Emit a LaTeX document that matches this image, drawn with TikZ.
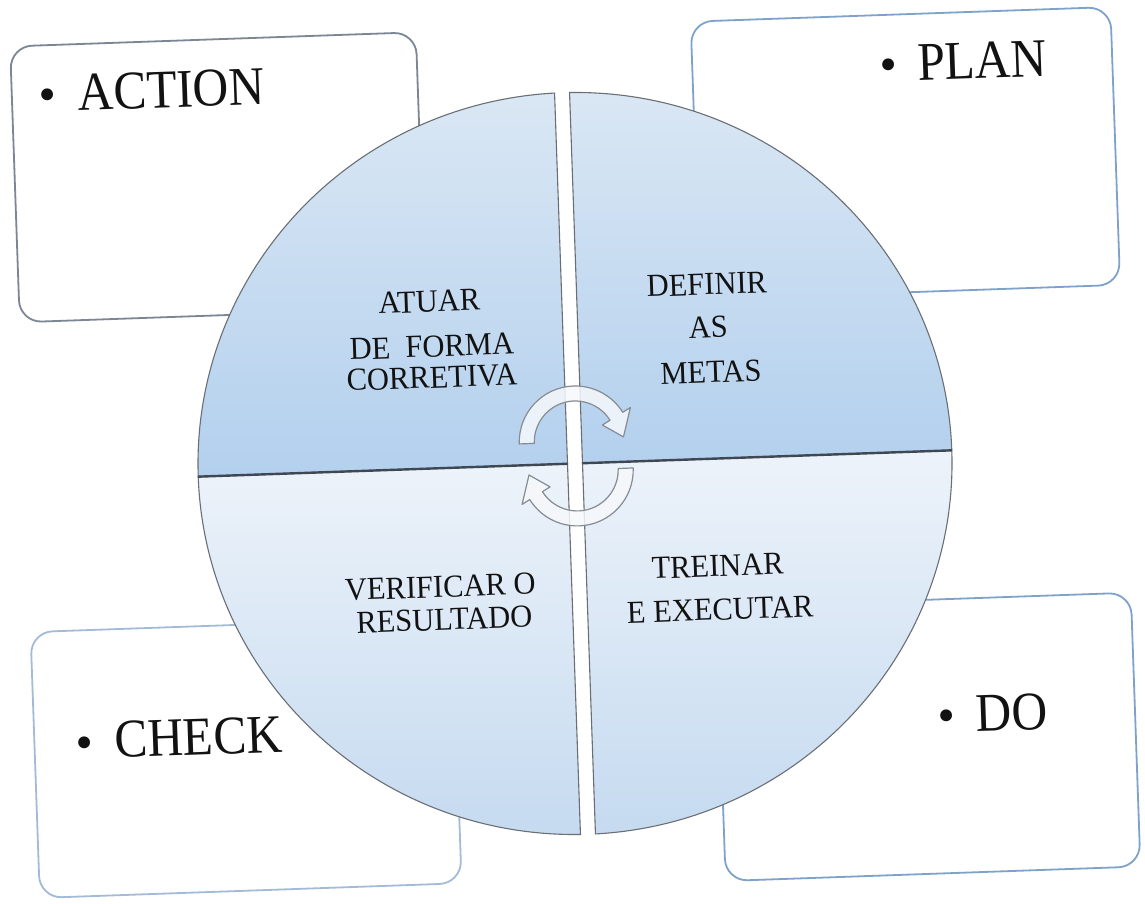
\documentclass[tikz,border=0pt]{standalone}
\usepackage{graphicx}
\usepackage{fontspec}
\setmainfont{Liberation Serif}

\definecolor{boxblue}{HTML}{7FA2CB}
\definecolor{boxgray}{HTML}{7B8794}
\definecolor{boxpale}{HTML}{A3BBD8}
\definecolor{uptop}{HTML}{DAE7F4}
\definecolor{upbot}{HTML}{B3D0EE}
\definecolor{lotop}{HTML}{EDF3FA}
\definecolor{lobot}{HTML}{C5DAF0}
\definecolor{rimgray}{HTML}{6A6F75}
\definecolor{divline}{HTML}{3E4752}
\definecolor{arrowline}{HTML}{868C94}
\definecolor{arrowfill}{HTML}{F6F8FB}
\definecolor{ink}{HTML}{121212}

% slightly tall lettering
\newcommand\tallword[1]{\scalebox{1}[1.1]{#1}}
\newcommand\quadword[1]{\scalebox{1}[1.05]{#1}}

\tikzset{
  phasebox/.style={draw=boxblue, line width=1.8pt, rounded corners=22pt, fill=white},
  boxlabel/.style={anchor=base west, inner sep=0pt, text=ink,
    font=\fontsize{49.5}{52}\selectfont},
  bulletmark/.style={anchor=base, inner sep=0pt, text=ink,
    font=\fontsize{49.5}{52}\selectfont},
  quadtext/.style={anchor=base, inner sep=0pt, text=ink, text height=21pt, text depth=0pt,
    font=\fontsize{30.5}{32}\selectfont},
  upperquad/.style={top color=uptop, bottom color=upbot, draw=rimgray, line width=1.1pt},
  lowerquad/.style={top color=lotop, bottom color=lobot, draw=rimgray, line width=1.1pt},
  divider/.style={draw=divline, line width=2.4pt},
  cyclearrow/.style={fill=arrowfill, fill opacity=0.85, draw=arrowline,
    line width=1.2pt, line join=round},
}

\begin{document}
\begin{tikzpicture}[x=1pt,y=1pt]
\useasboundingbox (0,0) rectangle (1145,903);
\fill[white] (0,0) rectangle (1145,903);

\begin{scope}[shift={(575,439.5)}, rotate=2, transform shape]

  % the four phase cards
  \node[phasebox, draw=boxgray, minimum width=406, minimum height=276] (actionbox) at (-347,298.5) {};
  \node[phasebox, minimum width=420, minimum height=278] (planbox) at (341,298.5) {};
  \node[phasebox, draw=boxpale, minimum width=422, minimum height=266] (checkbox) at (-339,-282.5) {};
  \node[phasebox, minimum width=415, minimum height=274] (dobox) at (343.5,-285.5) {};

  \node[bulletmark] (actiondot) at (-514,370) {•};
  \node[boxlabel] (actionword) at (-484,370) {\tallword{ACTION}};
  \node[bulletmark] (plandot) at (327,371) {•};
  \node[boxlabel] (planword) at (356,371) {\tallword{PLAN}};
  \node[bulletmark] (checkdot) at (-500,-278) {•};
  \node[boxlabel] (checkword) at (-470,-278) {\tallword{CHECK}};
  \node[bulletmark] (dodot) at (363,-282) {•};
  \node[boxlabel] (doword) at (392,-282) {\tallword{DO}};

  % the split disc
  \path[upperquad] (-7.5,0) -- (-7.5,370.93)
    arc[start angle=91.14, end angle=180, x radius=377, y radius=371] -- cycle;
  \path[upperquad] (7.5,0) -- (7.5,370.93)
    arc[start angle=88.86, end angle=0, x radius=377, y radius=371] -- cycle;
  \path[lowerquad] (-7.5,0) -- (-7.5,-370.93)
    arc[start angle=268.86, end angle=180, x radius=377, y radius=371] -- cycle;
  \path[lowerquad] (7.5,0) -- (7.5,-370.93)
    arc[start angle=-88.86, end angle=0, x radius=377, y radius=371] -- cycle;

  \draw[divider] (-377,0) -- (-7.5,0);
  \draw[divider] (7.5,0) -- (377,0);

  % quadrant captions
  \node[quadtext] (atuar) at (-140,156.5) {\quadword{ATUAR}};
  \node[quadtext] (deforma) at (-139,111.5) {\quadword{DE~~FORMA}};
  \node[quadtext] (corretiva) at (-140,80.5) {\quadword{CORRETIVA}};

  \node[quadtext] (definir) at (138,164) {\quadword{DEFINIR}};
  \node[quadtext] (as) at (138,121) {\quadword{AS}};
  \node[quadtext] (metas) at (139,76) {\quadword{METAS}};

  \node[quadtext] (verificar) at (-139,-129) {\quadword{VERIFICAR O}};
  \node[quadtext] (resultado) at (-136,-162) {\quadword{RESULTADO}};

  \node[quadtext] (treinar) at (139,-118) {\quadword{TREINAR}};
  \node[quadtext] (executar) at (140,-161.5) {\quadword{E EXECUTAR}};

  % circular arrows in the middle
  \begin{scope}[shift={(1,21.5)}]
    \draw[cyclearrow] (180:56) arc[start angle=180, end angle=30, radius=56]
      -- (30:65) -- (4:48.5) -- (30:32) -- (30:41)
      arc[start angle=30, end angle=180, radius=41] -- cycle;
  \end{scope}
  \begin{scope}[shift={(2,-6.5)}]
    \draw[cyclearrow] (0:56) arc[start angle=0, end angle=-150, radius=56]
      -- (-150:65) -- (-176:48.5) -- (-150:32) -- (-150:41)
      arc[start angle=-150, end angle=0, radius=41] -- cycle;
  \end{scope}
\end{scope}
\end{tikzpicture}
\end{document}
